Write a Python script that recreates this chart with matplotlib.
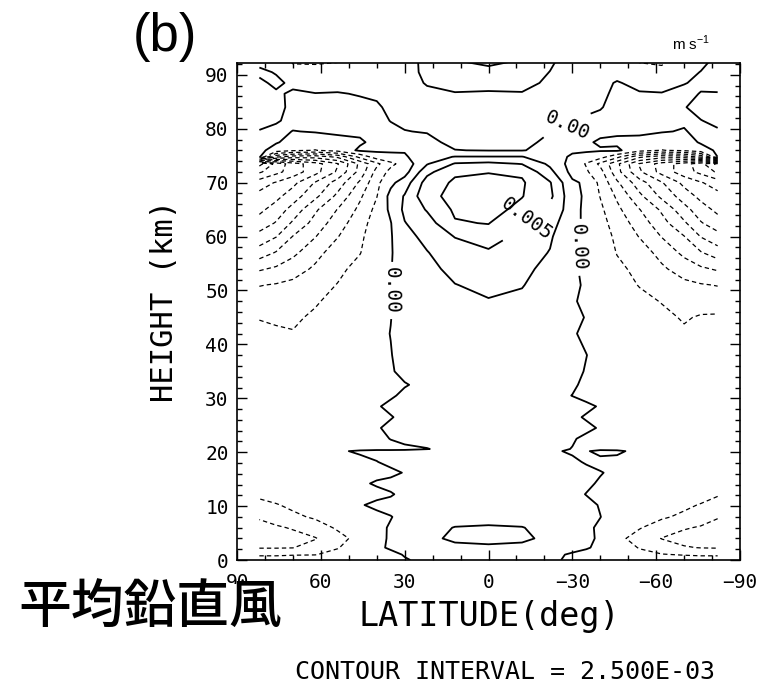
import numpy as np
import matplotlib
matplotlib.use("Agg")
import matplotlib.pyplot as plt
from matplotlib.patches import Rectangle
from matplotlib.ticker import MultipleLocator

# grid: latitude columns (deg), height rows (km, top first)
lat = [82, 76, 70, 62, 54, 46, 40, 35, 30, 22, 12, 0,
       -12, -22, -30, -35, -40, -46, -54, -62, -70, -76, -82]
height = [92.5, 90.5, 88.5, 86.5, 84, 81.5, 79.5, 77.5, 76, 74.8, 73.5, 72,
          70, 67.5, 65, 62.5, 60, 57, 54, 51, 48, 45, 42, 38, 35, 32.5,
          30.5, 28.5, 26.5, 24.5, 22.5, 20.6, 20.2, 18.2, 16.2, 14.2, 12.2,
          10.2, 8, 6, 4, 2.3, 1, 0]

# mean vertical wind in 1e-3 m/s (one row per height)
w_mm = [
    [-0.4, -0.6, -2.8, -2.7, -2.6, -1.8, -1.3, -1.2, -1.2, 0.8, 2.3, 3.2, 2.2, 0.4, -1.2, -1.2, -1.3, -1.8, -2.6, -2.8, -1.5, -0.4, 0.4],
    [0.3, -0.1, -1.5, -2.0, -1.6, -1.0, -0.9, -1.0, -1.0, 0.6, 1.8, 1.6, 1.3, -0.05, -0.9, -1.0, -1.0, -0.9, -1.8, -2.0, -0.5, 0.05, 0.4],
    [-0.3, 0.3, -0.3, -0.8, -0.6, -0.5, -0.6, -0.8, -0.8, 0.15, 0.6, 0.6, 0.5, -0.3, -0.7, -0.8, -0.7, 0.2, -0.7, -0.8, -0.05, 0.2, 0.3],
    [-0.6, -0.2, 0.2, 0.05, 0.1, -0.1, -0.3, -0.6, -0.6, -0.4, -0.1, -0.2, -0.1, -0.5, -0.6, -0.6, -0.4, 0.4, 0.2, 0.1, 0.3, -0.05, -0.05],
    [-0.8, -0.6, 0.5, 0.5, 0.5, 0.4, 0.25, -0.4, -0.5, -0.6, -0.6, -0.7, -0.6, -0.6, -0.4, -0.3, -0.1, 0.5, 0.5, 0.5, 0.1, -0.6, -0.6],
    [-0.6, -0.2, 0.5, 0.6, 0.6, 0.6, 0.5, -0.05, -0.3, -0.5, -0.7, -0.9, -0.8, -0.4, -0.1, 0.2, 0.4, 0.5, 0.6, 0.6, 0.2, 0.05, -0.4],
    [0.1, 0.5, -0.05, 0.1, 0.3, 0.4, 0.7, 0.4, 0.05, -0.1, -0.6, -0.8, -0.8, -0.05, 0.3, 0.5, 0.5, 0.3, 0.3, 0.1, -0.1, 0.4, 0.2],
    [0.5, 0.2, -0.8, -1.0, -0.6, -0.3, 0.6, 0.8, 0.6, 0.5, -0.5, -0.6, -0.6, 0.5, 0.5, 0.3, -0.3, -0.4, -0.5, -1.0, -0.8, 0.2, 0.4],
    [0.6, -1.0, -2.0, -2.6, -1.5, 0.4, 0.4, 0.3, 0.2, 1.0, 0.05, -0.1, -0.1, 0.6, 0.3, 0.3, 0.2, 0.4, -1.5, -2.6, -2.0, -0.8, 0.3],
    [0.5, -9.4, -11.2, -11.4, -9.4, -4.2, -1.2, -0.6, -0.3, 1.6, 2.6, 2.6, 2.6, 1.0, -0.3, -0.8, -1.5, -4.2, -9.4, -11.4, -11.2, -9.4, 0.1],
    [-28.3, -24.2, -21.2, -18.6, -15.2, -9.4, -5.6, -3.1, -1.5, 2.3, 5.2, 5.6, 4.9, 2.0, -1.0, -2.7, -5.6, -9.4, -15.2, -18.6, -21.2, -24.2, -28.3],
    [-25.4, -23.2, -21.4, -18.4, -14.6, -9.1, -4.1, -1.8, -1.0, 4.3, 7.1, 7.4, 7.1, 3.2, -0.8, -2.2, -4.1, -9.1, -14.6, -18.4, -21.4, -23.2, -25.4],
    [-21.2, -19.8, -18.2, -14.8, -11.4, -7.1, -3.1, -0.6, 1.2, 6.1, 7.9, 8.2, 7.8, 5.2, 0.4, -0.4, -3.1, -7.1, -11.4, -14.8, -18.2, -19.8, -21.2],
    [-19.2, -18.2, -16.2, -13.1, -9.4, -5.4, -2.6, 0.8, 2.7, 6.8, 8.2, 8.6, 7.6, 5.6, 0.8, -0.4, -2.6, -5.4, -9.4, -13.1, -16.2, -18.2, -19.2],
    [-18.1, -16.4, -14.1, -10.4, -7.4, -4.4, -1.8, 0.5, 3.0, 5.2, 7.9, 8.4, 6.8, 4.4, 1.2, -0.8, -2.0, -4.4, -7.4, -10.4, -14.1, -16.4, -18.1],
    [-16.4, -14.8, -12.1, -9.1, -6.1, -3.6, -1.2, -0.1, 2.4, 3.9, 7.3, 7.6, 4.9, 3.4, 0.9, -0.6, -1.6, -3.6, -6.1, -9.1, -12.1, -14.8, -16.4],
    [-14.1, -12.6, -9.9, -7.6, -5.1, -3.0, -1.0, -0.2, 1.8, 3.1, 5.1, 6.3, 4.2, 2.8, 0.5, -0.5, -1.3, -3.0, -5.1, -7.6, -9.9, -12.6, -14.1],
    [-11.3, -9.8, -8.1, -5.8, -3.8, -2.6, -0.8, -0.2, 1.3, 2.4, 3.7, 4.6, 3.5, 2.4, 0.4, -0.5, -1.0, -2.6, -3.8, -5.8, -8.1, -9.8, -11.3],
    [-7.8, -7.1, -6.1, -4.6, -3.1, -1.7, -0.7, -0.1, 1.1, 2.0, 3.0, 3.7, 3.0, 1.9, 0.3, -0.4, -0.8, -2.0, -3.1, -4.6, -6.1, -7.1, -7.8],
    [-5.1, -4.8, -4.4, -3.5, -2.4, -1.3, -0.6, -0.1, 1.0, 1.7, 2.45, 2.9, 2.6, 1.5, 0.3, -0.2, -0.6, -1.5, -2.6, -3.5, -4.4, -4.8, -5.1],
    [-3.8, -3.7, -3.6, -2.7, -1.9, -1.1, -0.5, -0.1, 1.0, 1.5, 2.0, 2.4, 2.1, 1.3, 0.2, -0.4, -0.5, -1.2, -1.9, -2.6, -3.2, -3.4, -3.6],
    [-2.6, -2.7, -2.8, -2.2, -1.6, -1.0, -0.5, -0.05, 1.0, 1.3, 1.6, 1.9, 1.6, 1.2, 0.5, -0.1, -0.5, -1.0, -1.6, -2.0, -2.7, -2.3, -2.2],
    [-2.0, -2.3, -2.4, -1.8, -1.4, -1.0, -0.6, 0.05, 1.0, 1.1, 1.3, 1.5, 1.3, 1.1, 0.3, -0.6, -0.6, -1.0, -1.4, -1.6, -2.2, -1.9, -1.8],
    [-1.5, -1.5, -1.4, -1.3, -1.2, -1.0, -1.0, -0.1, 0.9, 1.0, 1.0, 1.0, 1.0, 1.0, 1.0, 0.05, -0.95, -1.0, -1.2, -1.3, -1.4, -1.5, -1.5],
    [-1.5, -1.5, -1.4, -1.3, -1.2, -1.0, -1.0, -0.3, 0.8, 1.0, 1.0, 1.0, 1.0, 1.0, 0.8, -0.2, -1.0, -1.0, -1.2, -1.3, -1.4, -1.5, -1.5],
    [-1.5, -1.5, -1.4, -1.3, -1.2, -1.0, -1.0, -1.0, -0.2, 0.8, 1.0, 1.0, 1.0, 1.0, 0.4, -0.6, -1.0, -1.0, -1.2, -1.3, -1.4, -1.5, -1.5],
    [-1.5, -1.5, -1.4, -1.3, -1.2, -1.0, -1.0, -0.4, 0.6, 1.0, 1.0, 1.0, 1.0, 0.95, -0.05, -1.0, -1.0, -1.0, -1.2, -1.3, -1.4, -1.5, -1.5],
    [-1.5, -1.5, -1.4, -1.3, -1.2, -1.0, -0.3, 0.7, 1.0, 1.0, 1.0, 1.0, 1.0, 1.0, 1.0, 0.7, -0.3, -1.0, -1.2, -1.3, -1.4, -1.5, -1.5],
    [-1.5, -1.5, -1.4, -1.3, -1.2, -1.0, -1.0, -0.2, 0.8, 1.0, 1.0, 1.0, 1.0, 1.0, 0.66, -0.34, -1.0, -1.0, -1.2, -1.3, -1.4, -1.5, -1.5],
    [-1.5, -1.5, -1.4, -1.3, -1.2, -1.0, -0.3, 0.7, 1.0, 1.0, 1.0, 1.0, 1.0, 1.0, 1.0, 0.7, -0.3, -1.0, -1.2, -1.3, -1.4, -1.5, -1.5],
    [-1.5, -1.5, -1.4, -1.3, -1.2, -1.0, -0.9, 0.1, 1.0, 1.0, 1.0, 1.0, 1.0, 1.0, 0.3, -0.7, -1.0, -1.0, -1.2, -1.3, -1.4, -1.5, -1.5],
    [-1.5, -1.5, -1.4, -1.3, -1.2, -1.0, -1.0, -1.0, -0.8, -0.1, 0.9, 1.0, 1.0, 0.9, -0.1, -1.0, -1.0, -1.0, -1.2, -1.3, -1.4, -1.5, -1.5],
    [-1.5, -1.5, -1.4, -1.3, -0.5, 0.5, 1.0, 1.0, 1.0, 1.0, 1.0, 1.0, 1.0, 0.55, -0.45, -0.3, 0.9, 0.6, -1.0, -1.3, -1.4, -1.5, -1.5],
    [-1.5, -1.5, -1.4, -1.3, -1.2, -1.0, -0.1, 0.9, 1.0, 1.0, 1.0, 1.0, 1.0, 1.0, 0.66, -0.34, -1.0, -1.0, -1.2, -1.3, -1.4, -1.5, -1.5],
    [-1.5, -1.5, -1.4, -1.3, -1.2, -1.0, -1.0, -0.8, 0.2, 1.0, 1.0, 1.0, 1.0, 1.0, 1.0, 1.0, 0.2, -0.8, -1.2, -1.3, -1.4, -1.5, -1.5],
    [-1.5, -1.5, -1.4, -1.3, -1.2, -0.6, 0.4, 1.0, 1.0, 1.0, 1.0, 1.0, 1.0, 1.0, 1.0, 0.6, -0.4, -1.0, -1.2, -1.3, -1.4, -1.5, -1.5],
    [-2.2, -1.9, -1.6, -1.4, -1.2, -1.0, -1.0, -0.3, 0.85, 1.0, 1.0, 1.0, 1.0, 1.0, 0.9, -0.1, -1.0, -1.0, -1.2, -1.4, -1.6, -1.9, -2.4],
    [-2.9, -2.6, -2.2, -1.8, -1.4, -0.3, 0.8, 1.0, 1.0, 1.0, 1.0, 1.0, 1.0, 1.0, 1.0, 0.8, -0.2, -1.0, -1.4, -1.8, -2.2, -2.6, -2.9],
    [-4.8, -4.0, -2.8, -2.3, -1.8, -1.3, -1.0, -0.12, 0.88, 1.2, 1.4, 1.5, 1.4, 1.2, 1.0, 1.0, 0.05, -1.3, -1.8, -2.3, -2.8, -4.0, -4.9],
    [-5.6, -5.3, -4.8, -3.2, -2.3, -1.6, -0.72, 0.28, 1.0, 1.6, 2.6, 2.8, 2.6, 1.6, 1.0, 0.54, -0.46, -1.6, -2.4, -3.2, -4.8, -5.2, -5.5],
    [-6.0, -6.0, -5.8, -5.2, -3.0, -2.0, -0.7, 0.3, 1.0, 2.0, 2.9, 3.2, 2.9, 2.0, 1.0, 0.6, -0.4, -2.1, -3.1, -5.1, -5.8, -6.0, -6.0],
    [-5.2, -5.2, -5.1, -3.5, -2.6, -1.5, -0.6, 0.4, 1.0, 1.5, 2.0, 2.1, 2.0, 1.5, 1.0, 0.3, -0.7, -1.5, -2.6, -3.5, -4.8, -5.1, -5.2],
    [-2.7, -2.7, -2.6, -2.55, -2.0, -1.3, -1.0, -0.8, 0.2, 1.2, 1.3, 1.3, 1.3, 0.8, -0.4, -1.0, -1.0, -1.3, -2.0, -2.4, -2.6, -2.7, -2.7],
    [-1.8, -1.8, -1.7, -1.6, -1.4, -1.0, -1.0, -0.8, -0.25, 0.75, 1.0, 1.0, 1.0, 0.5, -0.5, -1.0, -1.0, -1.0, -1.4, -1.6, -1.7, -1.8, -1.8],
]

w = np.array(w_mm) * 1e-3
levels = np.arange(-12, 5) * 2.5e-3

plt.rcParams['font.family'] = ['DejaVu Sans Mono']

fig = plt.figure(figsize=(7.71, 6.93), dpi=100)
ax = fig.add_axes([0.3074, 0.1919, 0.6524, 0.7172])

X, Y = np.meshgrid(lat, height)
styles = ['solid' if v >= 0 else (0, (3.5, 2.5)) for v in levels]
widths = [1.3 if v >= 0 else 0.9 for v in levels]
cs = ax.contour(X, Y, w, levels=levels, colors='k',
                linestyles=styles, linewidths=widths)


def fmt(v):
    return '0.00' if abs(v) < 1e-9 else f'{v:.3f}'


# label positions: three zero lines and the 0.005 line
ax.clabel(cs, levels=levels, fmt=fmt, fontsize=14, inline=True,
          manual=[(34.5, 50), (-32.5, 58), (-28, 80.8), (-14, 63)])

ax.set_xlim(90, -90)
ax.set_ylim(0, 92.2)
ax.set_xticks([90, 60, 30, 0, -30, -60, -90])
ax.set_yticks(range(0, 91, 10))
ax.xaxis.set_minor_locator(MultipleLocator(10))
ax.yaxis.set_minor_locator(MultipleLocator(2))
ax.tick_params(which='both', direction='in', top=True, right=True,
               labelsize=14, width=1.0)
ax.tick_params(which='major', length=7)
ax.tick_params(which='minor', length=3.5)
ax.tick_params(axis='x', pad=9)
ax.tick_params(axis='y', pad=6)
for sp in ax.spines.values():
    sp.set_linewidth(1.2)

fig.text(0.214, 0.566, 'HEIGHT (km)', rotation=90, fontsize=22,
         ha='center', va='center')
fig.text(0.634, 0.110, 'LATITUDE(deg)', fontsize=24,
         ha='center', va='center')
fig.text(0.655, 0.030, 'CONTOUR INTERVAL = 2.500E-03', fontsize=18,
         ha='center', va='center')

fig.text(0.1725, 0.947, '(b)', fontsize=38, family='Liberation Sans',
         ha='left', va='center')
fig.text(0.8716, 0.928, 'm s$^{\\mathregular{-1}}$', fontsize=11,
         family='Liberation Sans', ha='left', va='baseline')

# pasted caption: white patch hides the lower half of the "90" tick label
fig.patches.append(Rectangle((0.022, 0.085), 0.352, 0.072,
                             transform=fig.transFigure, facecolor='white',
                             edgecolor='none', zorder=5))
fig.text(0.0233, 0.122, '平均鉛直風', fontsize=38, fontweight='medium',
         family=['Noto Sans CJK JP', 'DejaVu Sans'], ha='left', va='center',
         zorder=10)

fig.savefig('out.png', dpi=100)
